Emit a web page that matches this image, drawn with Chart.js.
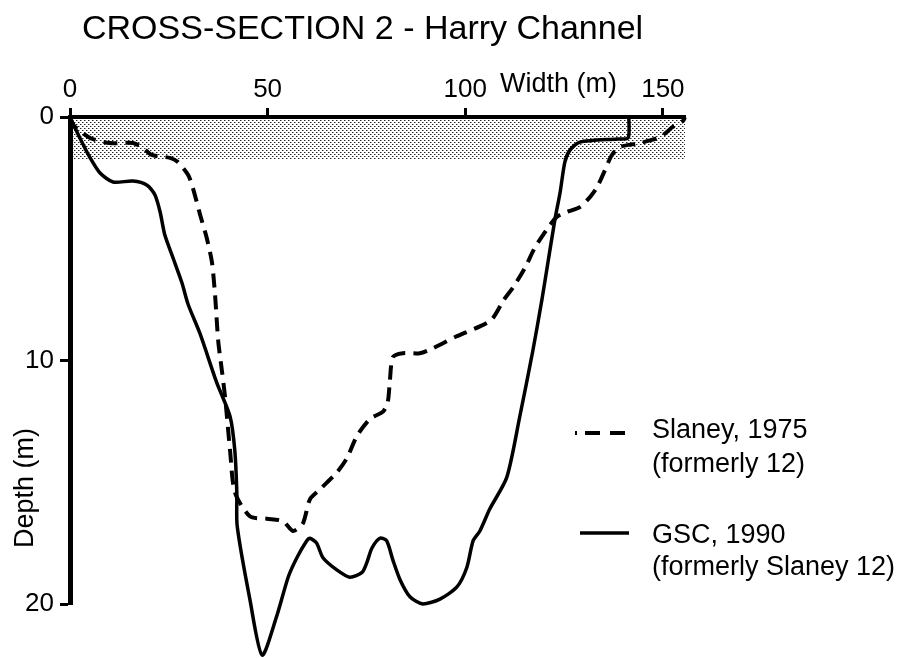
<!DOCTYPE html>
<html>
<head>
<meta charset="utf-8">
<script src="https://cdn.jsdelivr.net/npm/chart.js@4/dist/chart.umd.min.js"></script>
<style>
  html, body { margin: 0; padding: 0; background: #fff; }
  #wrap { width: 906px; height: 658px; }
</style>
</head>
<body>
<div id="wrap"><canvas id="c" width="906" height="658"></canvas></div>
<script>
// ---- data ----
const chartTitle = "CROSS-SECTION 2 - Harry Channel";
const xAxisTitle = "Width (m)";
const yAxisTitle = "Depth (m)";
const xTickValues = [0, 50, 100, 150];
const yTickValues = [0, 10, 20];
const widthMax = 155.6;
const depthMax = 20;
const shallowDepth = 1.77;

const seriesNames = ["Slaney, 1975", "GSC, 1990"];
const seriesNotes = ["(formerly 12)", "(formerly Slaney 12)"];

const widthSlaney = [0, 0.8, 5.1, 10.1, 15.9, 18.5, 20.7, 25.3, 27.3, 29.9, 31.1, 32.9, 34.6, 35.9, 36.7, 37.5, 38.5, 39.3, 40.5, 41.7, 45.5, 49.8, 53.9, 56.4, 58.9, 60.7, 63.2, 67.5, 70.1, 72.6, 75.9, 79.2, 80.4, 80.9, 81.7, 84.2, 88.5, 91.8, 97.9, 103.7, 106.8, 109.8, 112.1, 115.1, 117.5, 120.7, 123.2, 125.7, 129.0, 131.5, 133.3, 135.3, 137.1, 139.1, 144.2, 149.3, 152.5, 155.1, 155.6];
const depthSlaney = [0, 0.33, 0.86, 1.07, 1.07, 1.27, 1.56, 1.68, 1.85, 2.38, 2.92, 4.0, 4.97, 5.95, 7.3, 9.2, 10.5, 11.6, 13.7, 15.4, 16.4, 16.5, 16.6, 17.0, 16.7, 15.7, 15.3, 14.6, 14.0, 13.1, 12.4, 12.1, 11.7, 10.9, 9.86, 9.7, 9.7, 9.5, 9.0, 8.6, 8.3, 7.5, 7.0, 6.2, 5.4, 4.6, 4.1, 3.9, 3.7, 3.3, 2.9, 2.2, 1.56, 1.23, 1.07, 0.82, 0.41, 0.16, 0];

const widthGSC = [0, 2.5, 5.1, 7.6, 10.9, 15.9, 19.5, 21.5, 22.8, 24.0, 26.1, 28.3, 29.9, 32.9, 37.1, 40.5, 41.7, 42.2, 42.3, 45.5, 48.6, 52.3, 55.2, 57.4, 59.9, 60.7, 62.4, 64.0, 67.5, 70.8, 73.9, 75.1, 76.4, 78.4, 80.1, 81.7, 83.5, 86.0, 89.3, 93.6, 97.9, 100.4, 102.0, 103.7, 106.2, 110.5, 113.8, 117.1, 119.4, 120.7, 122.7, 124.0, 125.2, 126.5, 129.0, 138.4, 141.2, 141.4];
const depthGSC = [0, 0.86, 1.68, 2.3, 2.67, 2.63, 2.8, 3.2, 3.9, 4.85, 5.8, 6.8, 7.7, 8.9, 10.9, 12.3, 13.7, 15.4, 16.8, 19.8, 22.1, 20.5, 18.9, 18.1, 17.4, 17.3, 17.5, 18.1, 18.6, 18.9, 18.7, 18.3, 17.7, 17.3, 17.4, 18.2, 19.0, 19.7, 20.0, 19.8, 19.3, 18.5, 17.4, 17.0, 16.1, 14.8, 12.3, 9.6, 7.5, 6.2, 4.2, 3.1, 1.85, 1.36, 1.03, 0.9, 0.86, 0];

// shallow (shaded) band: starts just right of the depth axis line
const bandWidths = [0.6, widthMax];
const bandDepths = [shallowDepth, shallowDepth];

// ---- helpers ----
const toPoints = (xs, ys) => xs.map((x, i) => ({ x: x, y: ys[i] }));
const FONT = "'Liberation Sans', Arial, Helvetica, sans-serif";

const canvas = document.getElementById('c');
const ctx = canvas.getContext('2d');

// stippled pattern for the shallow band (diagonal dot grid)
const pc = document.createElement('canvas');
pc.width = 4; pc.height = 4;
const pctx = pc.getContext('2d');
pctx.fillStyle = '#ffffff';
pctx.fillRect(0, 0, 4, 4);
pctx.fillStyle = '#222222';
pctx.fillRect(0, 0, 1, 1);
pctx.fillRect(2, 2, 1, 1);
pctx.fillStyle = '#9a9a9a';
pctx.fillRect(1, 0, 1, 1);
pctx.fillRect(3, 2, 1, 1);
const stipple = ctx.createPattern(pc, 'repeat');

const DASH = [14, 8];

const textPlugin = {
  id: 'texts',
  afterDraw(chart) {
    const c = chart.ctx;
    c.save();
    c.fillStyle = '#000';
    c.textAlign = 'left';
    c.textBaseline = 'alphabetic';
    // title
    c.font = '34px ' + FONT;
    c.fillText(chartTitle, 82, 39);
    // x axis title
    c.font = '27px ' + FONT;
    c.fillText(xAxisTitle, 500, 92);
    // y axis title (rotated)
    c.save();
    c.translate(33, 488);
    c.rotate(-Math.PI / 2);
    c.textAlign = 'center';
    c.fillText(yAxisTitle, 0, 0);
    c.restore();

    // legend
    c.font = '27px ' + FONT;
    c.fillText(seriesNames[0], 652, 438);
    c.fillText(seriesNotes[0], 652, 472);
    c.fillText(seriesNames[1], 652, 543);
    c.fillText(seriesNotes[1], 652, 575);

    c.strokeStyle = '#000';
    c.lineWidth = 4;
    c.lineCap = 'butt';
    c.beginPath();
    c.setLineDash([2, 8, 15, 10, 15, 10]);
    c.moveTo(575, 433);
    c.lineTo(625, 433);
    c.stroke();
    c.setLineDash([]);
    c.lineWidth = 3.5;
    c.beginPath();
    c.moveTo(580, 533);
    c.lineTo(629, 533);
    c.stroke();
    c.restore();
  }
};

new Chart(canvas, {
  type: 'line',
  data: {
    datasets: [
      {
        label: seriesNames[1],
        data: toPoints(widthGSC, depthGSC),
        borderColor: '#000',
        borderWidth: 3.5,
        pointRadius: 0,
        tension: 0.25,
        fill: false,
        clip: false,
        order: 1
      },
      {
        label: seriesNames[0],
        data: toPoints(widthSlaney, depthSlaney),
        borderColor: '#000',
        borderWidth: 4,
        borderDash: DASH,
        borderCapStyle: 'butt',
        pointRadius: 0,
        tension: 0.25,
        fill: false,
        clip: false,
        order: 2
      },
      {
        label: 'shallow band',
        data: toPoints(bandWidths, bandDepths),
        borderWidth: 0,
        borderColor: 'rgba(0,0,0,0)',
        backgroundColor: stipple,
        pointRadius: 0,
        fill: 'origin',
        order: 10
      }
    ]
  },
  options: {
    responsive: false,
    animation: false,
    events: [],
    layout: { padding: { left: 0, top: 0, right: 221, bottom: 54 } },
    plugins: {
      legend: { display: false },
      tooltip: { enabled: false },
      title: { display: false }
    },
    scales: {
      x: {
        type: 'linear',
        position: 'top',
        min: 0,
        max: widthMax,
        afterFit: (s) => { s.height = 117; },
        afterBuildTicks: (s) => { s.ticks = xTickValues.map(v => ({ value: v })); },
        grid: {
          display: true,
          drawOnChartArea: false,
          drawTicks: true,
          tickLength: 9,
          tickWidth: 3,
          tickColor: '#000'
        },
        border: { display: true, color: '#000', width: 4, z: 1 },
        ticks: {
          color: '#000',
          padding: 3,
          maxRotation: 0,
          autoSkip: false,
          font: { family: FONT, size: 26 },
          callback: (v) => String(v)
        }
      },
      y: {
        type: 'linear',
        position: 'left',
        reverse: true,
        min: 0,
        max: depthMax,
        afterFit: (s) => { s.width = 70; },
        afterBuildTicks: (s) => { s.ticks = yTickValues.map(v => ({ value: v })); },
        grid: {
          display: true,
          drawOnChartArea: false,
          drawTicks: true,
          tickLength: 10,
          tickWidth: 3,
          tickColor: '#000'
        },
        border: { display: true, color: '#000', width: 5, z: 1 },
        ticks: {
          color: '#000',
          padding: 6,
          autoSkip: false,
          font: { family: FONT, size: 26 },
          callback: (v) => String(v)
        }
      }
    }
  },
  plugins: [textPlugin]
});
</script>
</body>
</html>
